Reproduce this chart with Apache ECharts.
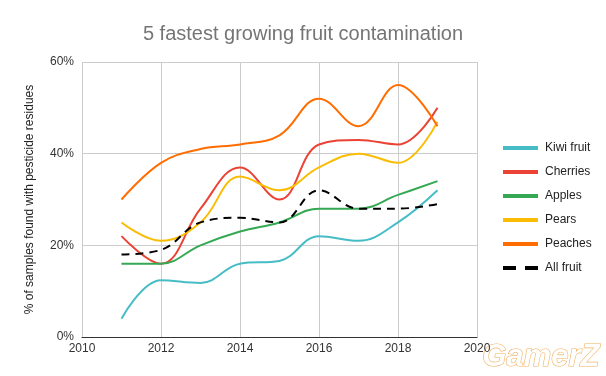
<!DOCTYPE html>
<html>
<head>
<meta charset="utf-8">
<script src="https://cdn.jsdelivr.net/npm/echarts@6/dist/echarts.min.js"></script>
<style>
  html, body { margin: 0; padding: 0; background: #fff; }
  #chart { width: 606px; height: 376px; }
</style>
</head>
<body>
<div id="chart"></div>
<script>
const years = [2011, 2012, 2013, 2014, 2015, 2016, 2017, 2018, 2019];
const kiwi = [4, 12.4, 11.8, 16, 16.6, 22, 21, 25, 32];
const cherries = [22, 16, 28, 37, 30, 42, 43, 42, 50];
const apples = [16, 16, 20, 23, 25, 28, 28, 31, 34];
const pears = [25, 21, 25, 35, 32, 37, 40, 38, 47];
const peaches = [30, 38, 41, 42, 44, 52, 46, 55, 46];
const allFruit = [18, 19, 25, 26, 25, 32, 28, 28, 29];

const seriesDefs = [
  { name: 'Kiwi fruit', values: kiwi, color: '#46bdc6' },
  { name: 'Cherries', values: cherries, color: '#ea4335' },
  { name: 'Apples', values: apples, color: '#34a853' },
  { name: 'Pears', values: pears, color: '#fbbc04' },
  { name: 'Peaches', values: peaches, color: '#ff6d01' },
  { name: 'All fruit', values: allFruit, color: '#000000', dashed: true }
];

const chart = echarts.init(document.getElementById('chart'));
const font = 'Liberation Sans, Arial, sans-serif';

const solidIcon = 'path://M0,0H35V4H0Z';
const dashIcon = 'path://M0,0H13V4H0Z M22,0H35V4H22Z';

chart.setOption({
  animation: false,
  textStyle: { fontFamily: font },
  title: {
    text: '5 fastest growing fruit contamination',
    left: 'center',
    top: 19,
    textStyle: { color: '#757575', fontSize: 20, fontWeight: 'normal', fontFamily: font }
  },
  grid: { left: 82, right: 129, top: 62, bottom: 39 },
  legend: {
    orient: 'vertical',
    left: 498,
    top: 137,
    itemWidth: 35,
    itemHeight: 4,
    itemGap: 12,
    textStyle: { color: '#222', fontSize: 12, fontFamily: font, padding: [0, 0, 0, 2] },
    data: seriesDefs.map(s => ({ name: s.name, icon: s.dashed ? dashIcon : solidIcon }))
  },
  xAxis: {
    type: 'value',
    min: 2010,
    max: 2020,
    interval: 2,
    axisLine: { lineStyle: { color: '#333' } },
    axisTick: { show: false },
    axisLabel: { color: '#333', fontSize: 12, margin: 6, formatter: v => String(v) },
    splitLine: { show: true, lineStyle: { color: '#cccccc' } }
  },
  yAxis: {
    type: 'value',
    min: 0,
    max: 60,
    interval: 20,
    name: '% of samples found with pesticide residues',
    nameLocation: 'middle',
    nameGap: 46,
    nameTextStyle: { color: '#222', fontSize: 12 },
    axisLine: { show: false },
    axisTick: { show: false },
    axisLabel: { color: '#333', fontSize: 12, formatter: '{value}%' },
    splitLine: { lineStyle: { color: '#cccccc' } }
  },
  graphic: [{
    type: 'text',
    right: 6,
    bottom: 2,
    style: {
      text: 'GamerZ',
      fontSize: 31,
      fontStyle: 'italic',
      fontWeight: 'bold',
      fontFamily: font,
      fill: '#ffffff',
      stroke: '#f0b060',
      lineWidth: 1.2
    }
  }],
  series: seriesDefs.map(s => ({
    name: s.name,
    type: 'line',
    smooth: 0.4,
    showSymbol: false,
    symbol: 'none',
    color: s.color,
    lineStyle: { width: 2, color: s.color, type: s.dashed ? [8, 6] : 'solid' },
    data: years.map((y, i) => [y, s.values[i]])
  }))
});
</script>
</body>
</html>
